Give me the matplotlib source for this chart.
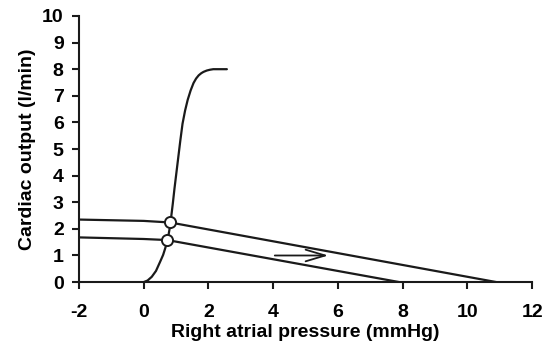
import matplotlib
matplotlib.use("Agg")
import matplotlib.pyplot as plt

# cardiac function curve
co_x = [0.0, 0.12, 0.25, 0.38, 0.51, 0.6, 0.66, 0.71, 0.75, 0.8, 0.85, 0.9, 0.95, 1.0, 1.07, 1.13,
        1.2, 1.28, 1.36, 1.45, 1.54, 1.62, 1.7, 1.78, 1.85, 1.95, 2.05, 2.15, 2.3, 2.57]
co_y = [0.0, 0.06, 0.2, 0.42, 0.77, 1.02, 1.25, 1.45, 1.65, 2.0, 2.45, 2.95, 3.5, 4.0, 4.7, 5.3,
        5.95, 6.45, 6.85, 7.2, 7.48, 7.65, 7.77, 7.85, 7.9, 7.95, 7.98, 8.0, 8.0, 8.0]

# venous return curves
vr_high_x = [-2.0, 0.0, 0.82, 10.9]
vr_high_y = [2.35, 2.3, 2.24, 0.0]
vr_low_x = [-2.0, 0.0, 0.73, 7.9]
vr_low_y = [1.68, 1.62, 1.58, 0.0]

# equilibrium points
eq_x = [0.82, 0.73]
eq_y = [2.24, 1.58]

plt.rcParams['font.family'] = ['Liberation Sans', 'DejaVu Sans']
plt.rcParams['font.weight'] = 'bold'
plt.rcParams['axes.unicode_minus'] = False

fig = plt.figure(figsize=(5.52, 3.47), dpi=100)
ax = fig.add_axes([0.143, 0.187, 0.821, 0.767])

ax.plot(co_x, co_y, color='#1a1a1a', lw=1.6, solid_capstyle='round')
ax.plot(vr_high_x, vr_high_y, color='#1a1a1a', lw=1.6)
ax.plot(vr_low_x, vr_low_y, color='#1a1a1a', lw=1.6)
ax.plot(eq_x, eq_y, 'o', ms=8, mfc='white', mec='#1a1a1a', mew=1.4, zorder=5)

ax.annotate('', xy=(5.7, 1.0), xytext=(4.05, 1.0),
            arrowprops=dict(arrowstyle='->,head_length=1.0,head_width=0.3',
                            color='#1a1a1a', lw=1.3, mutation_scale=14,
                            shrinkA=0, shrinkB=0))

ax.set_xlim(-2, 12)
ax.set_ylim(0, 10)
ax.set_xticks(range(-2, 13, 2))
ax.set_yticks(range(0, 11))

for s in ['top', 'right']:
    ax.spines[s].set_visible(False)
for s in ['left', 'bottom']:
    ax.spines[s].set_linewidth(1.5)
    ax.spines[s].set_color('#1a1a1a')

ax.tick_params(direction='out', length=5, width=1.5, color='#1a1a1a',
               labelsize=14, pad=6)
ax.tick_params(axis='x', pad=11)

ax.set_xlabel('Right atrial pressure (mmHg)', fontsize=14, fontweight='bold', labelpad=2)
ax.set_ylabel('Cardiac output (l/min)', fontsize=14, fontweight='bold', labelpad=4)

fig.savefig('out.png', dpi=100)
